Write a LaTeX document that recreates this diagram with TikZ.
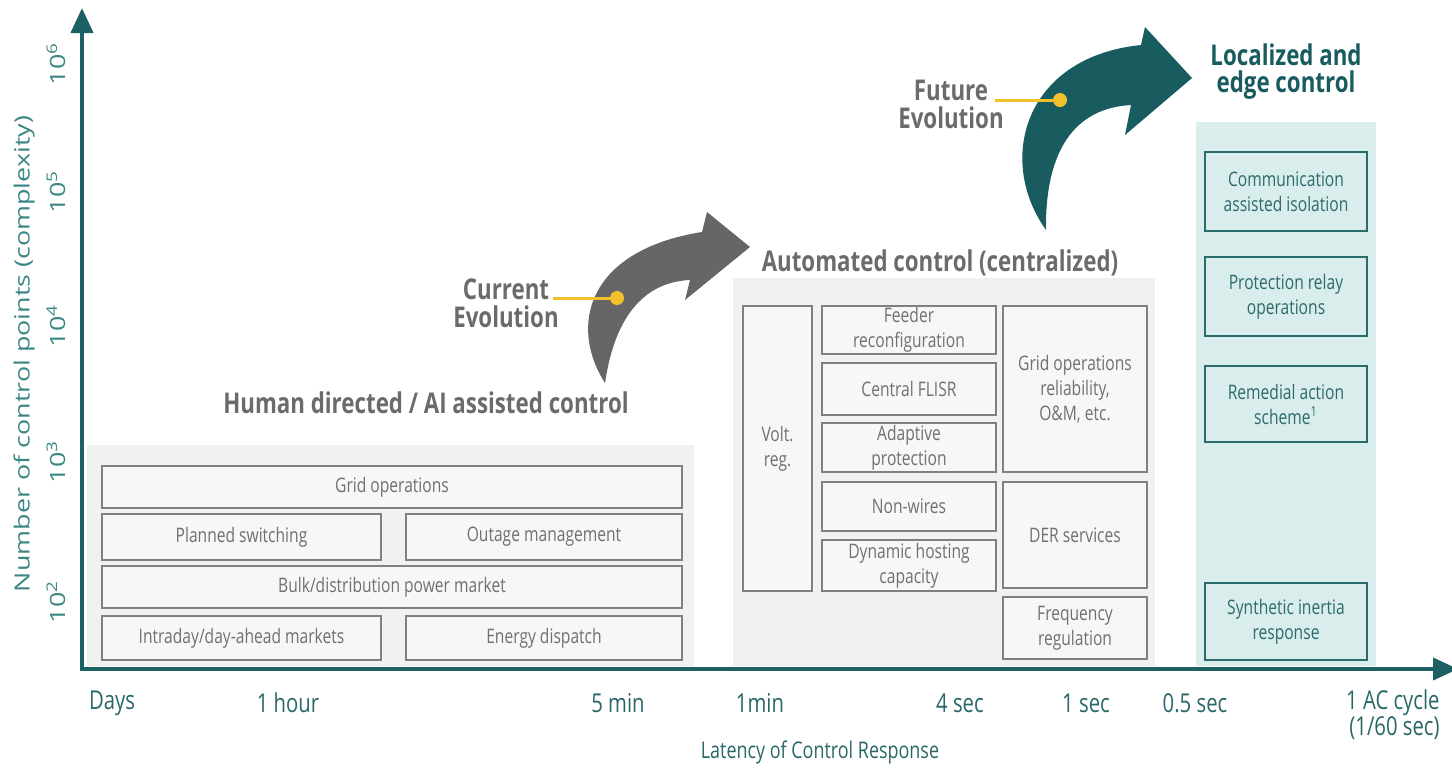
\documentclass[tikz,border=0pt]{standalone}
\usepackage{fontspec}
\setmainfont{Open Sans}[FakeStretch=0.78]
\newfontfamily\vfont{Open Sans}[FakeStretch=1.28]
\usetikzlibrary{fit,arrows.meta}
\definecolor{axisteal}{HTML}{1D6164}
\definecolor{futteal}{HTML}{185C5F}
\definecolor{curgray}{HTML}{666666}
\definecolor{ttlgray}{HTML}{6B6B6B}
\definecolor{txtgray}{HTML}{707070}
\definecolor{boxgray}{HTML}{808080}
\definecolor{boxfill}{HTML}{F7F7F7}
\definecolor{hbg}{HTML}{F1F1F1}
\definecolor{lbg}{HTML}{D9EDED}
\definecolor{lbox}{HTML}{2C6B6C}
\definecolor{ltxt}{HTML}{2E6A6B}
\definecolor{ylab}{HTML}{3B8785}
\definecolor{xlab}{HTML}{2A6769}
\definecolor{yell}{HTML}{F2C12E}
\begin{document}
\begin{tikzpicture}[x=0.5pt,y=-0.5pt,
  region/.style={fill=#1, draw=none, inner sep=0pt},
  graybox/.style={draw=boxgray, line width=1pt, fill=boxfill, inner sep=0pt},
  tealbox/.style={draw=lbox, line width=1pt, fill=lbg, inner sep=0pt},
  gtext/.style={text=txtgray, font=\fontsize{10}{12.5}\selectfont, align=center, inner sep=0pt},
  ltext/.style={text=ltxt, font=\fontsize{10}{12.5}\selectfont, align=center, inner sep=0pt},
  ttl/.style={text=ttlgray, font=\fontsize{14.3}{14}\selectfont\bfseries, align=center, inner sep=0pt},
  xtick/.style={text=xlab, font=\fontsize{13}{13}\selectfont, inner sep=0pt},
  ytick/.style={text=ylab, font=\vfont\fontsize{10.5}{12}\selectfont, rotate=90, inner sep=0pt},
  axis/.style={draw=axisteal, line width=2pt, -{Triangle[width=11pt,length=12.5pt]}},
  pointer/.style={draw=yell, line width=1.5pt},
  ydot/.style={circle, fill=yell, inner sep=0pt, minimum size=7pt}
]
\useasboundingbox (0,0) rectangle (1452,768);
\fill[white] (0,0) rectangle (1452,768);

% ---------- background regions ----------
\node[region=hbg, fit={(87,445)(694,666)}] (hreg) {};
\node[region=hbg, fit={(733,278)(1155,666)}] (areg) {};
\node[region=lbg, fit={(1196,122)(1376,666)}] (lreg) {};

% ---------- Human directed boxes ----------
\node[graybox, fit={(102,466)(682,508)}] (hgrid) {};
\node[gtext] (hgrid-t) at (hgrid) {Grid operations};
\node[graybox, fit={(102,514)(381,560)}] (hplan) {};
\node[gtext] (hplan-t) at (hplan) {Planned switching};
\node[graybox, fit={(406,514)(682,560)}] (hout) {};
\node[gtext] (hout-t) at (hout) {Outage management};
\node[graybox, fit={(102,566)(682,608)}] (hbulk) {};
\node[gtext] (hbulk-t) at (hbulk) {Bulk/distribution power market};
\node[graybox, fit={(102,616)(381,660)}] (hintra) {};
\node[gtext] (hintra-t) at (hintra) {Intraday/day-ahead markets};
\node[graybox, fit={(406,616)(682,660)}] (hen) {};
\node[gtext] (hen-t) at (hen) {Energy dispatch};

% ---------- Automated boxes ----------
\node[graybox, fit={(743,306)(812,591)}] (avolt) {};
\node[gtext] (avolt-t) at (avolt) {Volt.\\reg.};
\node[graybox, fit={(822,306)(996,354)}] (afeed) {};
\node[gtext] (afeed-t) at (afeed) {Feeder\\reconfiguration};
\node[graybox, fit={(822,363)(996,415)}] (aflisr) {};
\node[gtext] (aflisr-t) at (aflisr) {Central FLISR};
\node[graybox, fit={(822,423)(996,472)}] (aadapt) {};
\node[gtext] (aadapt-t) at (aadapt) {Adaptive\\protection};
\node[graybox, fit={(822,482)(996,531)}] (anonw) {};
\node[gtext] (anonw-t) at (anonw) {Non-wires};
\node[graybox, fit={(822,540)(996,591)}] (adyn) {};
\node[gtext] (adyn-t) at (adyn) {Dynamic hosting\\capacity};
\node[graybox, fit={(1003,306)(1147,472)}] (agrid) {};
\node[gtext] (agrid-t) at (agrid) {Grid operations\\reliability,\\O\&M, etc.};
\node[graybox, fit={(1003,482)(1147,588)}] (ader) {};
\node[gtext] (ader-t) at (ader) {DER services};
\node[graybox, fit={(1003,597)(1147,659)}] (afreq) {};
\node[gtext] (afreq-t) at (afreq) {Frequency\\regulation};

% ---------- Localized boxes ----------
\node[tealbox, fit={(1205,152)(1367,231)}] (lcomm) {};
\node[ltext] (lcomm-t) at (lcomm) {Communication\\assisted isolation};
\node[tealbox, fit={(1205,257)(1367,336)}] (lprot) {};
\node[ltext] (lprot-t) at (lprot) {Protection relay\\operations};
\node[tealbox, fit={(1205,366)(1367,442)}] (lrem) {};
\node[ltext] (lrem-t) at (lrem) {Remedial action\\scheme\textsuperscript{1}};
\node[tealbox, fit={(1205,583)(1367,660)}] (lsyn) {};
\node[ltext] (lsyn-t) at (lsyn) {Synthetic inertia\\response};

% ---------- titles ----------
\node[ttl] (thuman) at (426,403) {Human directed / AI assisted control};
\node[ttl] (tauto) at (940,263) {Automated control (centralized)};
\node[ttl, text=futteal, font=\fontsize{14.3}{13.5}\selectfont\bfseries] (tloc) at (1286,72) {Localized and\\edge control};

% ---------- evolution arrows ----------
\fill[curgray] (605,383) .. controls (568,325) and (588,250) .. (702,232)
  -- (707,212) -- (750,247) -- (685,300) -- (690,280)
  .. controls (645,282) and (615,315) .. (605,383) -- cycle;
\fill[futteal] (1046,230) .. controls (996,160) and (1024,57) .. (1141,45)
  -- (1145,27) -- (1192,78) -- (1125,135) -- (1131,105)
  .. controls (1075,108) and (1045,150) .. (1046,230) -- cycle;

\node[ttl] (tcur) at (506,303) {Current\\Evolution};
\coordinate (cline) at (553,298);
\node[ydot] (cdot) at (617,298) {};
\draw[pointer] (cline) -- (cdot);

\node[ttl] (tfut) at (951,104) {Future\\Evolution};
\coordinate (fline) at (995,100);
\node[ydot] (fdot) at (1060,100) {};
\draw[pointer] (fline) -- (fdot);

% ---------- axes ----------
\coordinate (O) at (82,669);
\coordinate (ytop) at (82,8);
\coordinate (xend) at (1458,669);
\draw[axis] ([yshift=-1pt]O) -- (ytop);
\draw[axis] ([xshift=-1pt]O) -- (xend);

% y ticks
\node[ytick] (y6) at (56,64) {10\textsuperscript{6}};
\node[ytick] (y5) at (56,192) {10\textsuperscript{5}};
\node[ytick] (y4) at (56,326) {10\textsuperscript{4}};
\node[ytick] (y3) at (56,462) {10\textsuperscript{3}};
\node[ytick] (y2) at (56,602) {10\textsuperscript{2}};
\node[ytick] (ytitle) at (24,354) {Number of control points (complexity)};

% x ticks
\node[xtick] (xdays) at (112,703) {Days};
\node[xtick] (xhour) at (288,703) {1 hour};
\node[xtick] (x5min) at (618,703) {5 min};
\node[xtick] (x1min) at (760,703) {1min};
\node[xtick] (x4s) at (960,703) {4 sec};
\node[xtick] (x1s) at (1086,703) {1 sec};
\node[xtick] (x05s) at (1195,703) {0.5 sec};
\node[xtick, align=right, anchor=east] (xac) at (1440,715) {1 AC cycle\\(1/60 sec)};
\node[xtick, font=\fontsize{11.5}{12}\selectfont] (xtitle) at (820,752) {Latency of Control Response};
\end{tikzpicture}
\end{document}
